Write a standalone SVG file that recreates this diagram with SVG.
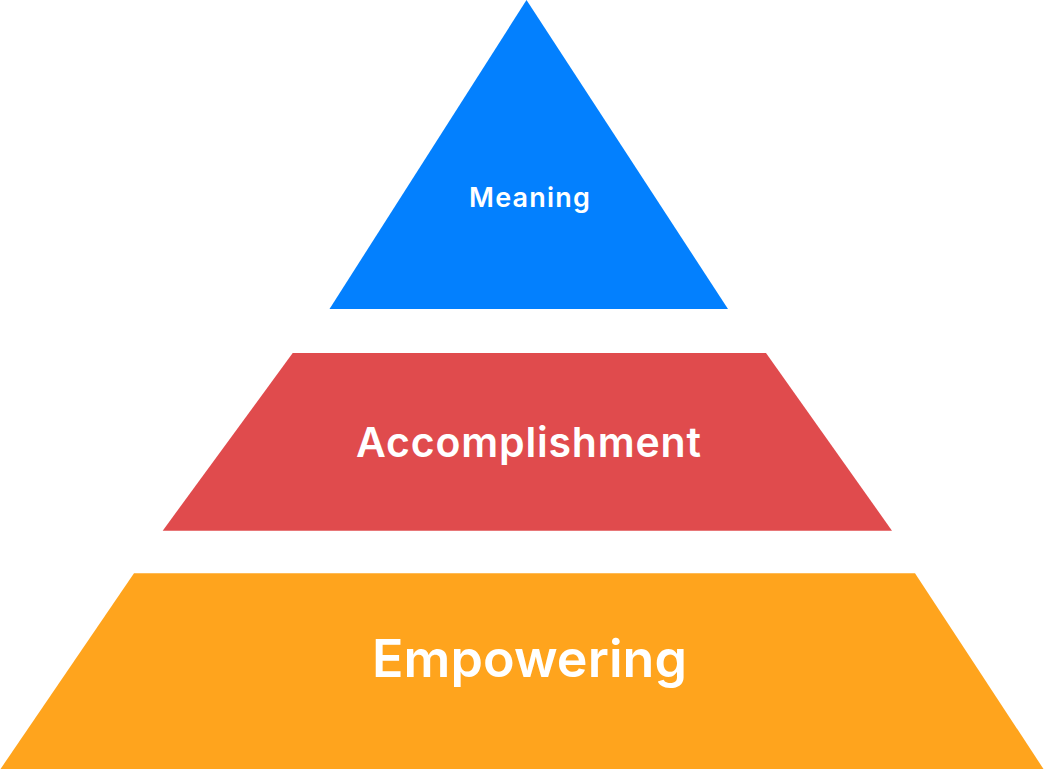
<svg xmlns="http://www.w3.org/2000/svg" width="1044" height="769" viewBox="0 0 1044 769">
  <style>
    .label { font-family: "Inter", "Noto Sans", "Liberation Sans", sans-serif; font-weight: 600; fill: #ffffff; text-anchor: middle; }
  </style>
  <rect width="1044" height="769" fill="#ffffff"/>
  <g id="meaning">
    <polygon points="526.5,0 728,309 329.5,309" fill="#0380FE"/>
    <text class="label" x="529.5" y="207" font-size="27" textLength="121" lengthAdjust="spacing">Meaning</text>
  </g>
  <g id="accomplishment">
    <polygon points="292.7,353 766,353 892,530.7 162.7,530.7" fill="#E04B4D"/>
    <text class="label" x="528.5" y="457" font-size="41" textLength="345" lengthAdjust="spacing">Accomplishment</text>
  </g>
  <g id="empowering">
    <polygon points="134,573.3 915,573.3 1043.5,769 0.5,769" fill="#FFA41D"/>
    <text class="label" x="529.5" y="677" font-size="52" textLength="315" lengthAdjust="spacing">Empowering</text>
  </g>
  <g id="connectors"/>
</svg>
